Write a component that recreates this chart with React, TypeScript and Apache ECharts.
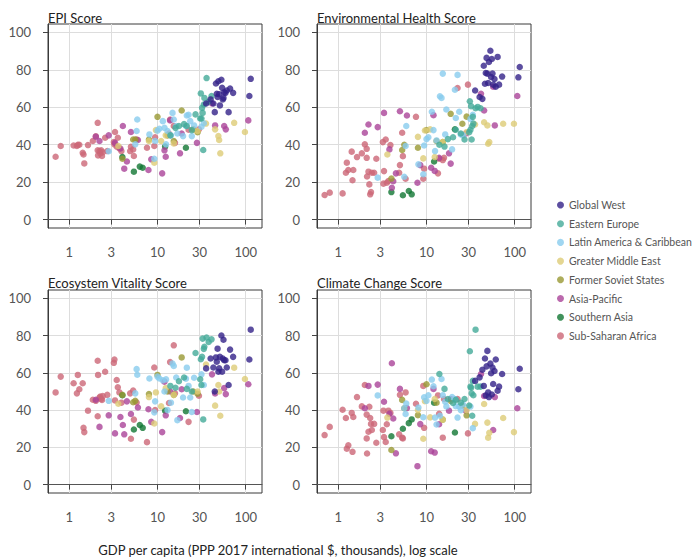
import React, { useEffect, useRef } from "react";
import * as echarts from "echarts";

// ---------- data ----------
const regionNames = [
  "Global West",
  "Eastern Europe",
  "Latin America & Caribbean",
  "Greater Middle East",
  "Former Soviet States",
  "Asia-Pacific",
  "Southern Asia",
  "Sub-Saharan Africa",
];
const regionColors = ["#332288", "#44AA99", "#88CCEE", "#DDCC77", "#999933", "#AA4499", "#117733", "#CC6677"];

const panelTitles = ["EPI Score", "Environmental Health Score", "Ecosystem Vitality Score", "Climate Change Score"];
const xTicks = [1, 3, 10, 30, 100];
const yTicks = [0, 20, 40, 60, 80, 100];

// Global West
const gwGdp = [35.6, 40, 43, 44.6, 46, 47, 48, 49, 50, 51, 53, 54, 55, 56, 57, 59, 61, 64, 66.5, 72, 110, 114];
const gwEpi = [62, 64.2, 62, 57.4, 72.7, 67.2, 65.5, 73.9, 67, 61, 74.7, 70.4, 64.2, 65, 68, 67.7, 69, 57.4, 70, 67.7, 66, 75.2];
const gwEh = [69, 65.5, 64.5, 82.2, 72.6, 78.3, 86.4, 78, 73, 84.2, 90.2, 76.2, 85.8, 78, 72.1, 75.1, 71, 86.9, 72.1, 76.4, 76, 81.5];
const gwEv = [62.4, 67.7, 62.9, 50, 68.3, 66, 73, 60.6, 62.4, 68.6, 80.1, 60.6, 67.7, 77.8, 66.8, 66.8, 62.9, 53.5, 72.5, 68.6, 67.2, 83.2];
const gwCc = [55.7, 57.6, 61.7, 53, 67.7, 47.9, 63.5, 71.8, 49.5, 47, 65, 59.8, 48.4, 62.9, 54, 61, 67.2, 50.4, 52.6, 59.4, 51.2, 62.2];

// Eastern Europe
const eeGdp = [14, 16, 17.5, 20, 21.5, 24.5, 27, 30.5, 31, 31.5, 32, 32.5, 33, 33.5, 34, 36, 38, 41];
const eeEpi = [45, 49, 50, 51, 50, 47.8, 56.2, 54, 67.4, 54, 59.7, 57, 37.2, 61.5, 65, 75.6, 63, 66];
const eeEh = [40, 39, 43, 44, 48, 46, 42.8, 46.7, 63.2, 48, 60.6, 42.8, 50, 54.9, 51.3, 59.5, 60.2, 59.5];
const eeEv = [53, 52, 55.5, 57.5, 51.4, 50, 70.7, 56.6, 67.3, 53.5, 68.6, 78.4, 35, 72.9, 74, 79, 76.6, 78];
const eeCc = [59.4, 51.4, 46, 43.8, 45.5, 44, 46, 42.5, 71.6, 52.6, 52, 49, 37, 55.7, 48, 83.2, 52.6, 52.6];

// Latin America & Caribbean
const laGdp = [2.8, 5.6, 5.8, 5.9, 8.1, 9.2, 9.4, 10, 10.5, 11.5, 12, 12.5, 13, 14.2, 14.8, 15.3, 16.3, 16.8, 19.5, 21, 21.5, 22.5, 23.5, 24.5, 26, 31.5, 33.5];
const laEpi = [36.5, 40.2, 47.3, 53.5, 45.5, 32.5, 42, 47.5, 48.5, 52.6, 49, 40.2, 47.3, 45, 57, 53.5, 50, 46, 44.6, 50, 55.6, 56, 52.6, 44.6, 50.3, 49.6, 51.5];
const laEh = [22.4, 22.9, 39.3, 50, 29.5, 24.2, 39.6, 43, 44, 57.6, 47.8, 36.6, 42.3, 65.9, 65, 78, 45.5, 58.8, 37.5, 69.4, 54.3, 77.3, 57.6, 45.5, 45, 53.8, 56];
const laEv = [45, 49, 62, 59, 57, 38.8, 44.7, 58, 57, 56, 50, 56.5, 40, 44, 65, 63.7, 57.5, 34.6, 46.8, 56.9, 62.8, 53, 46.8, 39, 57.4, 59.2, 53.5];
const laCc = [47.9, 41, 37.9, 43.5, 41.4, 36.2, 46.9, 45, 48, 56.4, 52.8, 36, 32.3, 37, 56.7, 48, 44.5, 42, 47, 46, 42.1, 36, 41.9, 40, 43, 41.9, 30.3];

// Greater Middle East
const gmGdp = [3.6, 8, 9.2, 9.6, 11, 12.4, 15.3, 28.5, 35.5, 45, 49, 50, 51.5, 74, 98];
const gmEpi = [39.3, 42, 30.4, 47.8, 42, 45, 40.7, 47.3, 51.3, 48.2, 44.6, 42.5, 35.4, 51.7, 46.8];
const gmEh = [34.8, 44.2, 32.7, 47.6, 48.2, 33.4, 41.4, 46.7, 50.8, 52, 50.3, 40.5, 41.4, 51.2, 51.2];
const gmEv = [43.4, 47, 32.8, 49.5, 42, 51.8, 48.2, 50, 64.5, 42.4, 53.5, 50, 37, 62.8, 56.7];
const gmCc = [36, 40, 24.6, 44.8, 36.1, 46, 34.9, 40, 32.6, 43.3, 33.3, 25.2, 27.8, 35.8, 28.2];

// Former Soviet States
const fsGdp = [4.0, 5.3, 5.6, 8, 10, 13, 15.3, 18.8, 25.5, 28.5];
const fsEpi = [32.5, 42.8, 42.8, 42.8, 54.9, 45, 42, 58.3, 48.2, 46.7];
const fsEh = [21.9, 37.2, 40, 38.4, 47.8, 42, 41.4, 56.5, 51.2, 55];
const fsEv = [48.2, 44.2, 45, 48.6, 58.9, 50, 48.2, 68.3, 50, 48.8];
const fsCc = [18.6, 45.5, 41, 37.3, 53.9, 44, 34.9, 45, 42.5, 37.2];

// Asia-Pacific
const apGdp = [2.0, 2.2, 2.8, 3.3, 3.8, 4.05, 4.2, 4.5, 5.0, 6.0, 7.9, 8.5, 11.3, 12, 12.4, 13.9, 18, 18.8, 28, 41.5, 45, 57, 59.5, 107];
const apEpi = [44.3, 42, 45, 41, 38, 50, 27.2, 31, 46.8, 42.5, 26.5, 32.2, 24.7, 37, 33.6, 53, 35.4, 46, 41, 62, 50.3, 50, 48.2, 53];
const apEh = [46.4, 50.8, 49.4, 57, 37.5, 17, 20.5, 24.7, 57.9, 55.6, 19.7, 29.1, 27.7, 55.8, 26, 33, 35.4, 29.9, 46, 67.2, 58.3, 71, 50.3, 66];
const apEv = [45.6, 31, 37.2, 27.5, 36.3, 32, 27, 44.7, 37.9, 41.4, 40.5, 33.7, 28.2, 55.3, 37.2, 50, 35.8, 51.2, 39, 59.2, 48.9, 51.8, 48.6, 53.9];
const apCc = [41, 53, 53.7, 44.5, 38, 65.2, 35.5, 16.8, 51.4, 41.1, 9.9, 32.5, 17.9, 51.4, 17.2, 32.4, 39.7, 46, 39.7, 59.4, 47.6, 29.3, 47, 41];

// Southern Asia
const saGdp = [4.0, 5.4, 6.3, 6.8, 12.2, 21];
const saEpi = [33.4, 25.6, 28.3, 27.7, 39, 38.4];
const saEh = [14.7, 13, 15.3, 13.5, 31, 48.2];
const saEv = [48, 29.6, 32, 30.5, 39.7, 39.4];
const saCc = [26, 30, 33, 35, 44, 28];

// Sub-Saharan Africa
const ssGdp = [0.7, 0.8, 1.12, 1.22, 1.25, 1.3, 1.42, 1.45, 1.48, 1.63, 1.85, 2.0, 2.1, 2.1, 2.12, 2.2, 2.25, 2.3, 2.35, 2.4, 2.55, 2.7, 3.2, 3.25, 3.3, 3.45, 3.55, 3.7, 3.9, 4.9, 5.0, 5.3, 5.4, 5.8, 7.6, 9.2, 9.4, 13.5, 13.9, 15.3, 15.8, 22.5, 29.5];
const ssEpi = [33.6, 39.3, 39.6, 39.3, 40, 40, 35.7, 34.8, 30, 39.8, 42, 44.5, 51.7, 37, 34.3, 36.6, 35.4, 37, 34, 36, 43.7, 36.6, 41.4, 40.2, 46.8, 39, 43.7, 38, 36.6, 36.6, 38.9, 37.5, 34, 42.8, 38.4, 39.3, 44, 46, 53.5, 50, 41, 48, 48.2];
const ssEh = [13.1, 14.4, 14, 25, 30.4, 26.5, 36.3, 21, 26.5, 33.4, 35.4, 40.2, 37.8, 33, 23, 25.6, 18.8, 13.5, 14.7, 25, 25, 32.5, 41.4, 19.2, 25.9, 42.8, 19.7, 20.6, 39.8, 25, 29.1, 46.4, 33.9, 21.8, 54.9, 21.8, 27.2, 24.7, 32.5, 31.8, 33, 70.3, 72.1];
const ssEv = [49.5, 58, 54.4, 49, 58.9, 51.2, 54.4, 30.5, 28.2, 39.7, 45.6, 45, 66.5, 36.7, 58.9, 46.8, 47.3, 46, 45.5, 47.5, 60.6, 48.2, 65.4, 67.2, 45.2, 56.2, 52.3, 49.5, 44, 49, 24.6, 50.5, 34.9, 44.1, 22.8, 62.9, 40, 43.8, 65.8, 74.8, 49, 33.7, 47.7];
const ssCc = [26.6, 31, 40.2, 35.8, 19.3, 21.1, 38.5, 17.6, 36.3, 47, 42, 53.5, 37.6, 24.8, 16.7, 28.4, 41.8, 35.8, 32.6, 29.3, 32.6, 22.5, 29.3, 39.7, 25.5, 22.9, 32.4, 39.7, 38.5, 27, 48.2, 25.2, 24.8, 49.5, 43.4, 53, 30.5, 47.9, 38, 25.2, 46, 46, 27.5];

const regionGdp = [gwGdp, eeGdp, laGdp, gmGdp, fsGdp, apGdp, saGdp, ssGdp];
const regionScores = [
  [gwEpi, gwEh, gwEv, gwCc],
  [eeEpi, eeEh, eeEv, eeCc],
  [laEpi, laEh, laEv, laCc],
  [gmEpi, gmEh, gmEv, gmCc],
  [fsEpi, fsEh, fsEv, fsCc],
  [apEpi, apEh, apEv, apCc],
  [saEpi, saEh, saEv, saCc],
  [ssEpi, ssEh, ssEv, ssCc],
];

const FONT = "Lato, 'Noto Sans', sans-serif";

const gridRects = [
  { left: 48, top: 24, width: 214, height: 204 },
  { left: 317, top: 24, width: 214, height: 204 },
  { left: 48, top: 290, width: 214, height: 203 },
  { left: 317, top: 290, width: 214, height: 203 },
];

export default function App() {
  const ref = useRef<HTMLDivElement>(null);
  useEffect(() => {
    if (!ref.current) return;
    const chart = echarts.init(ref.current, undefined, { renderer: "svg" });

    const grids = gridRects.map((g) => ({
      ...g,
      show: true,
      borderColor: "#3a3a3a",
      borderWidth: 1,
      backgroundColor: "transparent",
    }));

    const xAxes = gridRects.map((_, p) => ({
      type: "log",
      logBase: 10,
      gridIndex: p,
      min: 0.574,
      max: 153,
      axisLine: { show: true, lineStyle: { color: "#555", width: 1 } },
      axisTick: { show: true, customValues: xTicks, length: 5, lineStyle: { color: "#444" } },
      axisLabel: {
        customValues: xTicks,
        formatter: (v: number) => String(Math.round(v)),
        margin: 17,
        color: "#555",
        fontSize: 13,
        fontFamily: FONT,
      },
      splitLine: { show: true, lineStyle: { color: "#dddddd", width: 1 } },
    }));

    const yAxes = gridRects.map((_, p) => ({
      type: "value",
      gridIndex: p,
      min: -4.5,
      max: 104.5,
      axisLine: { show: true, lineStyle: { color: "#3a3a3a", width: 1 } },
      axisTick: { show: true, customValues: yTicks, length: 5, lineStyle: { color: "#444" } },
      axisLabel: {
        customValues: yTicks,
        margin: 17,
        color: "#555",
        fontSize: 13,
        fontFamily: FONT,
      },
      splitLine: { show: true, lineStyle: { color: "#dddddd", width: 1 } },
    }));

    const series: any[] = [];
    for (let p = 0; p < 4; p++) {
      for (let r = regionNames.length - 1; r >= 0; r--) {
        const gdp = regionGdp[r];
        const sc = regionScores[r][p];
        series.push({
          type: "scatter",
          name: regionNames[r],
          xAxisIndex: p,
          yAxisIndex: p,
          symbolSize: 6.5,
          itemStyle: { color: regionColors[r], opacity: 0.8 },
          emphasis: { disabled: true },
          data: gdp.map((g, i) => [g, sc[i]]),
        });
      }
    }

    const titleGraphics = gridRects.map((g, p) => ({
      type: "text",
      x: g.left,
      y: p < 2 ? 17.5 : 282.5,
      style: {
        text: panelTitles[p],
        fill: "#222",
        fontSize: 13,
        fontFamily: FONT,
        verticalAlign: "middle",
        align: "left",
      },
    }));

    chart.setOption({
      animation: false,
      backgroundColor: "#ffffff",
      grid: grids,
      xAxis: xAxes,
      yAxis: yAxes,
      legend: {
        data: regionNames,
        orient: "vertical",
        left: 552,
        top: 194,
        icon: "circle",
        itemWidth: 7,
        itemHeight: 7,
        itemGap: 6.7,
        selectedMode: false,
        textStyle: { color: "#555", fontSize: 10.5, fontFamily: FONT, lineHeight: 12 },
      },
      graphic: [
        ...titleGraphics,
        {
          type: "text",
          x: 278,
          y: 550,
          style: {
            text: "GDP per capita (PPP 2017 international $, thousands), log scale",
            fill: "#222",
            fontSize: 13,
            fontFamily: FONT,
            align: "center",
            verticalAlign: "middle",
          },
        },
      ],
      series,
    });

    return () => chart.dispose();
  }, []);

  return (
    <div
      ref={ref}
      style={{ position: "fixed", left: 0, top: 0, width: 699, height: 559, background: "#fff" }}
    />
  );
}
